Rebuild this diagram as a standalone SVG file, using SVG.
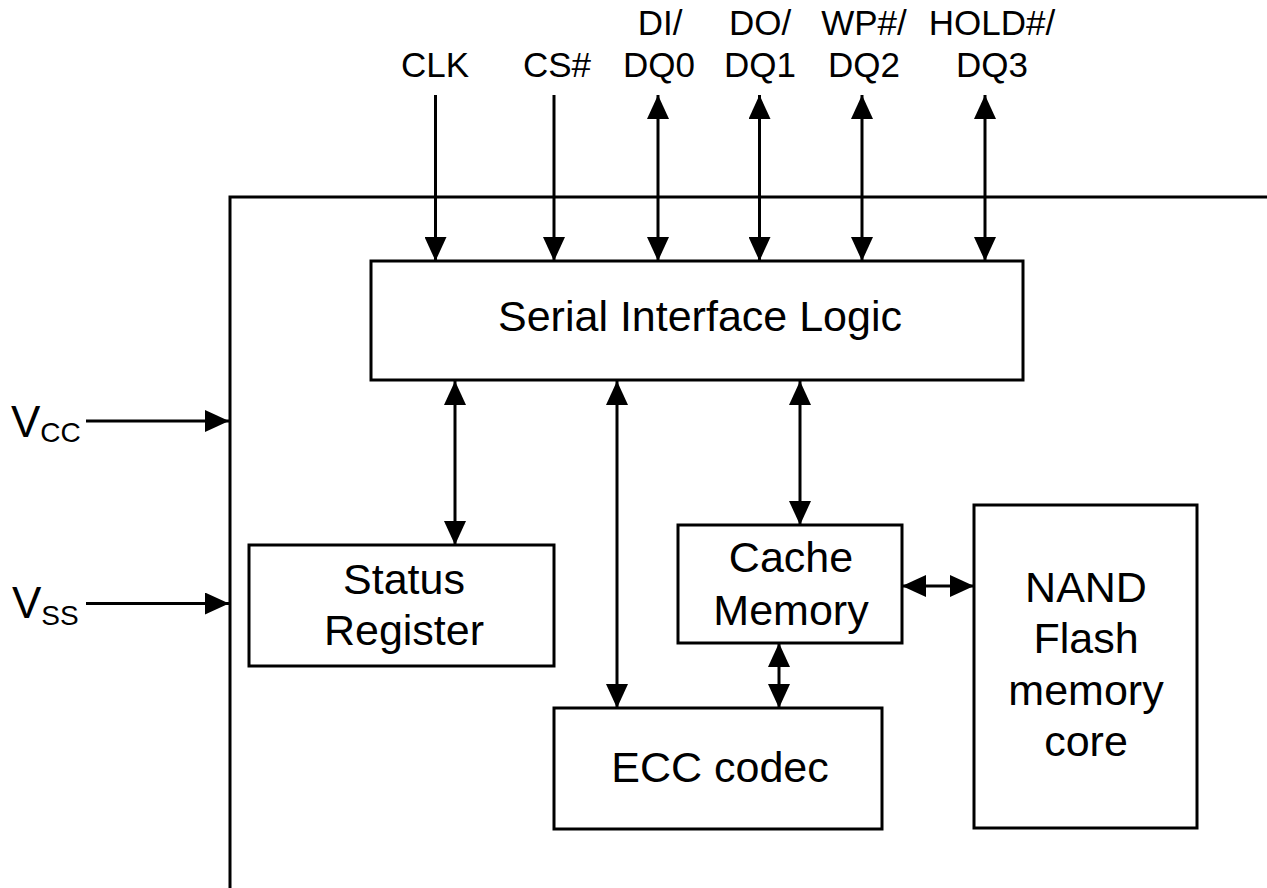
<svg xmlns="http://www.w3.org/2000/svg" width="1267" height="888" viewBox="0 0 1267 888">
<style>
.box{fill:#fff;stroke:#000;stroke-width:3}
.ln{fill:none;stroke:#000;stroke-width:3}
.t{font-family:"Liberation Sans",Arial,sans-serif;fill:#000;text-anchor:middle}
.pin{font-size:35px}
.lbl{font-size:43px}
.a{marker-end:url(#ah)}
.aa{marker-end:url(#ah);marker-start:url(#ah)}
</style>
<defs>
<marker id="ah" markerUnits="userSpaceOnUse" viewBox="0 0 24 22" markerWidth="24" markerHeight="22" refX="24" refY="11" orient="auto-start-reverse">
<path d="M0,0 L24,11 L0,22 Z" fill="#000"/>
</marker>
</defs>
<rect width="1267" height="888" fill="#fff"/>
<g id="frame">
<path class="ln" d="M230,888 V197 H1267"/>
</g>
<g id="pins">
<text class="t pin" x="435" y="77">CLK</text>
<text class="t pin" x="557" y="77">CS#</text>
<text class="t pin" x="660" y="35">DI/</text>
<text class="t pin" x="659" y="77">DQ0</text>
<text class="t pin" x="760" y="35">DO/</text>
<text class="t pin" x="760" y="77">DQ1</text>
<text class="t pin" x="864" y="35">WP#/</text>
<text class="t pin" x="864" y="77">DQ2</text>
<text class="t pin" x="992" y="35">HOLD#/</text>
<text class="t pin" x="992" y="77">DQ3</text>
<text font-family="Liberation Sans, Arial, sans-serif" font-size="44" x="11" y="437">V<tspan font-size="28" dy="5">CC</tspan></text>
<text font-family="Liberation Sans, Arial, sans-serif" font-size="44" x="12" y="618">V<tspan font-size="28" dy="7">SS</tspan></text>
</g>
<g id="connectors">
<line class="ln a" x1="435.5" y1="95" x2="435.5" y2="261"/>
<line class="ln a" x1="554" y1="95" x2="554" y2="261"/>
<line class="ln aa" x1="658" y1="95" x2="658" y2="261"/>
<line class="ln aa" x1="759.5" y1="95" x2="759.5" y2="261"/>
<line class="ln aa" x1="862" y1="95" x2="862" y2="261"/>
<line class="ln aa" x1="985" y1="95" x2="985" y2="261"/>
<line class="ln a" x1="86" y1="421" x2="229" y2="421"/>
<line class="ln a" x1="86" y1="603.5" x2="229" y2="603.5"/>
<line class="ln aa" x1="455" y1="381" x2="455" y2="545"/>
<line class="ln aa" x1="617" y1="381" x2="617" y2="708"/>
<line class="ln aa" x1="800" y1="381" x2="800" y2="525"/>
<line class="ln aa" x1="779" y1="643" x2="779" y2="708"/>
<line class="ln aa" x1="902" y1="586" x2="974" y2="586"/>
</g>
<g id="sil">
<rect class="box" x="371" y="261" width="652" height="119"/>
<text class="t lbl" x="700" y="331">Serial Interface Logic</text>
</g>
<g id="status">
<rect class="box" x="249" y="545" width="305" height="121"/>
<text class="t lbl" x="404" y="594">Status</text>
<text class="t lbl" x="404" y="645">Register</text>
</g>
<g id="cache">
<rect class="box" x="678" y="525" width="224" height="118"/>
<text class="t lbl" x="791" y="572">Cache</text>
<text class="t lbl" x="791" y="625">Memory</text>
</g>
<g id="ecc">
<rect class="box" x="554" y="708" width="328" height="121"/>
<text class="t lbl" x="720" y="782">ECC codec</text>
</g>
<g id="nand">
<rect class="box" x="974" y="505" width="223" height="323"/>
<text class="t lbl" x="1086" y="602">NAND</text>
<text class="t lbl" x="1086" y="653">Flash</text>
<text class="t lbl" x="1086" y="705">memory</text>
<text class="t lbl" x="1086" y="756">core</text>
</g>
</svg>
